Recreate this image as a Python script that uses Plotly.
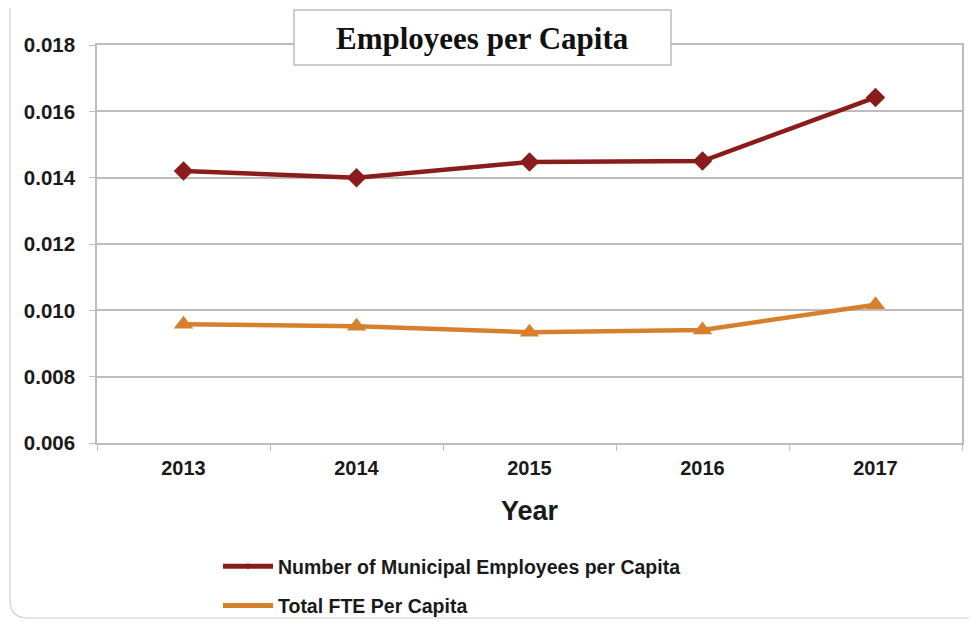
import plotly.graph_objects as go

years = ["2013", "2014", "2015", "2016", "2017"]
municipal = [0.0142, 0.0140, 0.01447, 0.0145, 0.01642]
fte = [0.00958, 0.00952, 0.00934, 0.00941, 0.01017]
y_ticks = [0.006, 0.008, 0.010, 0.012, 0.014, 0.016, 0.018]
series_names = ["Number of Municipal Employees per Capita", "Total FTE Per Capita"]

RED = "#8B1C1C"
ORANGE = "#D6802E"
GRID = "#BDBDBD"
FONT = "Arial, Liberation Sans, sans-serif"

fig = go.Figure()
fig.add_trace(go.Scatter(
    x=years, y=municipal, name=series_names[0], mode="lines+markers",
    line=dict(color=RED, width=4.5),
    marker=dict(symbol="diamond", size=15, color=RED),
    showlegend=False,
))
fig.add_trace(go.Scatter(
    x=years, y=fte, name=series_names[1], mode="lines+markers",
    line=dict(color=ORANGE, width=4.5),
    marker=dict(symbol="triangle-up", size=17, color=ORANGE),
    showlegend=False,
))
# legend entries (thin marker as in the original legend)
fig.add_trace(go.Scatter(
    x=[None], y=[None], name=series_names[0], mode="lines+markers",
    line=dict(color=RED, width=5), marker=dict(symbol="diamond", size=5, color=RED),
    legendgroup="a",
))
fig.add_trace(go.Scatter(
    x=[None], y=[None], name=series_names[1], mode="lines+markers",
    line=dict(color=ORANGE, width=5), marker=dict(symbol="triangle-up", size=5, color=ORANGE),
    legendgroup="b",
))

# page body has an 8px margin; figure sized so the plot lands on the page as in the original
OFF = 8
W, H = 977 - OFF, 621 - OFF
PL, PR, PT, PB = 97, 962, 45, 443  # plot area in page pixels
L, T = PL - OFF, PT - OFF
R = W - (PR - OFF)
B = H - (PB - OFF)

fig.update_layout(
    width=W, height=H,
    margin=dict(l=L, r=R, t=T, b=B, autoexpand=False),
    paper_bgcolor="white", plot_bgcolor="white",
    font=dict(family=FONT, color="#1a1a1a"),
    showlegend=True,
    legend=dict(
        x=(218 - PL) / (PR - PL), y=(PB - 547) / (PB - PT),
        xanchor="left", yanchor="top",
        font=dict(family=FONT, size=19.5, color="#1a1a1a", weight="bold"),
        tracegroupgap=11, itemwidth=50,
        bgcolor="rgba(0,0,0,0)",
    ),
    xaxis=dict(
        type="category", categoryorder="array", categoryarray=years,
        showgrid=False, showline=True, linecolor=GRID, linewidth=1.5, mirror=True,
        ticks="outside", tickson="boundaries", ticklen=6, tickcolor=GRID,
        tickfont=dict(family=FONT, size=20, color="#1a1a1a", weight="bold"),
        ticklabelstandoff=6,
        title=dict(text="Year", font=dict(family=FONT, size=27, color="#1a1a1a", weight="bold"), standoff=23),
        range=[-0.5, 4.5], fixedrange=True,
    ),
    yaxis=dict(
        range=[0.006, 0.018], tickvals=y_ticks, tickformat=".3f",
        showgrid=True, gridcolor=GRID, gridwidth=1.5,
        showline=True, linecolor=GRID, linewidth=1.5, mirror=True,
        ticks="outside", ticklen=6, tickcolor=GRID,
        tickfont=dict(family=FONT, size=20.5, color="#1a1a1a", weight="bold"),
        ticklabelstandoff=10,
        zeroline=False, fixedrange=True,
    ),
)

def px_x(v):
    return (v - PL) / (PR - PL)
def px_y(v):
    return (PB - v) / (PB - PT)

# outer rounded frame
fig.add_shape(type="path", xref="paper", yref="paper",
              path=(f"M {px_x(10)},{px_y(-5)} L {px_x(10)},{px_y(600)} "
                    f"Q {px_x(10)},{px_y(618)} {px_x(28)},{px_y(618)} L {px_x(990)},{px_y(618)}"),
              line=dict(color="#CFCFCF", width=1.2), layer="below")

# title box
fig.add_shape(type="rect", xref="paper", yref="paper",
              x0=px_x(294), x1=px_x(671), y0=px_y(65), y1=px_y(10),
              line=dict(color="#BDBDBD", width=1.5), fillcolor="white", layer="above")
fig.add_annotation(xref="paper", yref="paper", x=px_x(482), y=px_y(38),
                   text="<b>Employees per Capita</b>", showarrow=False,
                   font=dict(family="Liberation Serif, DejaVu Serif, serif", size=31, color="#111111"),
                   xanchor="center", yanchor="middle")

fig.write_html("out.html")
